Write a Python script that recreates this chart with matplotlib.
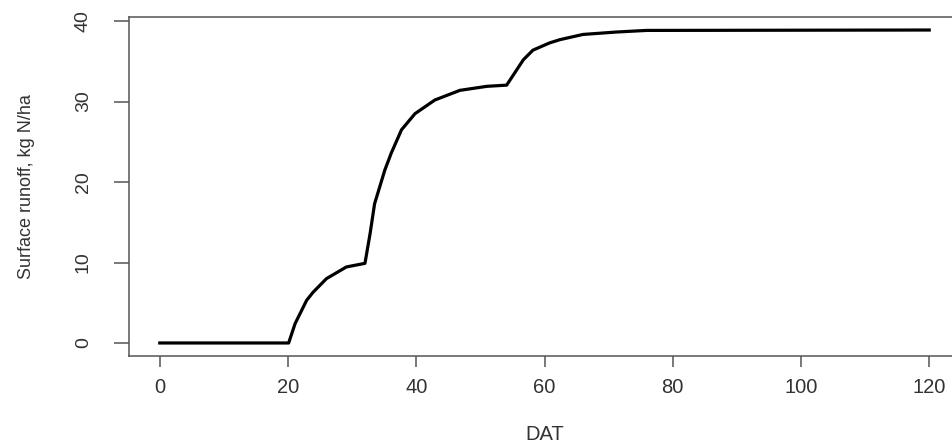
import matplotlib
matplotlib.use("Agg")
import matplotlib.pyplot as plt

# cumulative N loss in surface runoff
dat = [0, 20.1, 21.1, 22.9, 23.9, 26.0, 29.1, 32.0, 32.8, 33.5, 34.3, 35.1,
       36.1, 37.7, 39.8, 42.9, 46.8, 51.0, 54.1, 56.7, 58.2, 60.8, 62.4,
       66.0, 71.2, 75.9, 120]
runoff = [0, 0, 2.4, 5.3, 6.3, 8.0, 9.45, 9.9, 13.6, 17.3, 19.4, 21.5,
          23.6, 26.5, 28.5, 30.2, 31.4, 31.9, 32.05, 35.2, 36.4, 37.3, 37.7,
          38.35, 38.65, 38.85, 38.9]

xticks = [0, 20, 40, 60, 80, 100, 120]
yticks = [0, 10, 20, 30, 40]

box_col = "#555555"

fig = plt.figure(figsize=(9.53, 4.44), dpi=100)
# R-style box, right edge falls just outside the picture
ax = fig.add_axes([129 / 953, 88.5 / 444, 831 / 953, 338 / 444])
ax.plot(dat, runoff, color="black", lw=2.3, solid_joinstyle="round")

ax.set_xlim(-4.8, 124.8)
ax.set_ylim(-1.556, 40.456)
ax.set_xticks(xticks)
ax.set_yticks(yticks)

for s in ax.spines.values():
    s.set_color(box_col)
    s.set_linewidth(1.1)

ax.tick_params(axis="x", length=8, width=1.1, color=box_col, pad=8,
               labelsize=14.5, labelcolor="#333333")
ax.tick_params(axis="y", length=10.8, width=1.1, color=box_col, pad=16,
               labelsize=14, labelcolor="#333333")
for t in ax.get_xticklabels():
    t.set_family(["Liberation Sans", "DejaVu Sans"])
for t in ax.get_yticklabels():
    t.set_family(["Liberation Sans Narrow", "Liberation Sans", "DejaVu Sans"])
    t.set_rotation(90)
    t.set_va("center")

ax.set_xlabel("DAT", fontsize=14.5, family=["Liberation Sans", "DejaVu Sans"],
              color="#333333", va="top")
ax.xaxis.set_label_coords(0.5, -0.205)
ax.set_ylabel("Surface runoff, kg N/ha", fontsize=13,
              family=["Liberation Sans", "DejaVu Sans"], color="#333333")
ax.yaxis.set_label_coords(-0.113, 0.5)

fig.savefig("out.png", dpi=100)
